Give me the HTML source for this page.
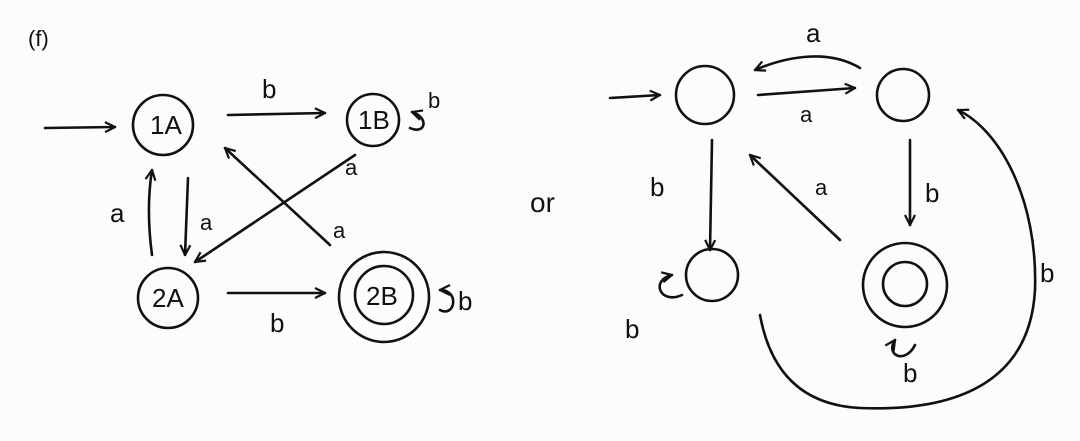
<!DOCTYPE html>
<html><head><meta charset="utf-8"><style>
html,body{margin:0;padding:0;background:#fcfcfc;}
svg{display:block}
text{font-family:"Liberation Sans",sans-serif;fill:#111;}
</style></head><body>
<svg width="1080" height="441" viewBox="0 0 1080 441">
<defs>
<marker id="ah" viewBox="0 0 12 12" refX="11" refY="6" markerWidth="12" markerHeight="12" markerUnits="userSpaceOnUse" orient="auto">
<path d="M1,1 L11,6 L1,11" fill="none" stroke="#111" stroke-width="2.2"/>
</marker>
</defs>
<g stroke="#111" stroke-width="2.6" fill="none" stroke-linecap="round">
<!-- left diagram -->
<line x1="45" y1="128" x2="115" y2="127" marker-end="url(#ah)"/>
<circle cx="163" cy="125" r="30"/>
<line x1="228" y1="115" x2="325" y2="113" marker-end="url(#ah)"/>
<circle cx="373" cy="120" r="26"/>
<path d="M410,128 C425,135 430,118 412,112" marker-end="url(#ah)"/>
<line x1="188" y1="178" x2="185" y2="255" marker-end="url(#ah)"/>
<path d="M152,255 C148,225 148,195 152,170" marker-end="url(#ah)"/>
<circle cx="168" cy="298" r="30"/>
<line x1="228" y1="293" x2="325" y2="293" marker-end="url(#ah)"/>
<circle cx="384" cy="297" r="45"/>
<circle cx="384" cy="295" r="29"/>
<path d="M440,310 C455,318 460,290 440,290" marker-end="url(#ah)"/>
<line x1="355" y1="155" x2="195" y2="262" marker-end="url(#ah)"/>
<line x1="330" y1="245" x2="225" y2="148" marker-end="url(#ah)"/>
<!-- right diagram -->
<line x1="610" y1="98" x2="660" y2="95" marker-end="url(#ah)"/>
<circle cx="705" cy="95" r="29"/>
<circle cx="903" cy="95" r="26"/>
<path d="M860,68 C830,50 790,55 755,70" marker-end="url(#ah)"/>
<line x1="758" y1="95" x2="855" y2="88" marker-end="url(#ah)"/>
<line x1="712" y1="140" x2="710" y2="250" marker-end="url(#ah)"/>
<circle cx="712" cy="275" r="26"/>
<path d="M682,295 C660,305 650,280 672,275" marker-end="url(#ah)"/>
<line x1="910" y1="140" x2="910" y2="225" marker-end="url(#ah)"/>
<circle cx="905" cy="285" r="42"/>
<circle cx="905" cy="284" r="22"/>
<path d="M915,345 C905,365 885,355 895,340" marker-end="url(#ah)"/>
<line x1="840" y1="240" x2="750" y2="155" marker-end="url(#ah)"/>
<path d="M760,315 C770,370 800,405 860,408 C960,412 1030,380 1035,290 C1038,200 1000,130 958,110" marker-end="url(#ah)"/>
</g>
<g font-size="26">
<text x="28" y="46" font-size="22">(f)</text>
<text x="150" y="134">1A</text>
<text x="358" y="129">1B</text>
<text x="152" y="307">2A</text>
<text x="366" y="305">2B</text>
<text x="262" y="98">b</text>
<text x="428" y="108" font-size="22">b</text>
<text x="200" y="230" font-size="22">a</text>
<text x="110" y="222">a</text>
<text x="270" y="332">b</text>
<text x="458" y="310">b</text>
<text x="345" y="175" font-size="22">a</text>
<text x="333" y="238" font-size="22">a</text>
<text x="530" y="212" font-size="28">or</text>
<text x="806" y="42">a</text>
<text x="800" y="122" font-size="22">a</text>
<text x="650" y="196">b</text>
<text x="925" y="202">b</text>
<text x="815" y="195" font-size="22">a</text>
<text x="625" y="338">b</text>
<text x="903" y="382">b</text>
<text x="1040" y="282">b</text>
</g>
</svg>
</body></html>
